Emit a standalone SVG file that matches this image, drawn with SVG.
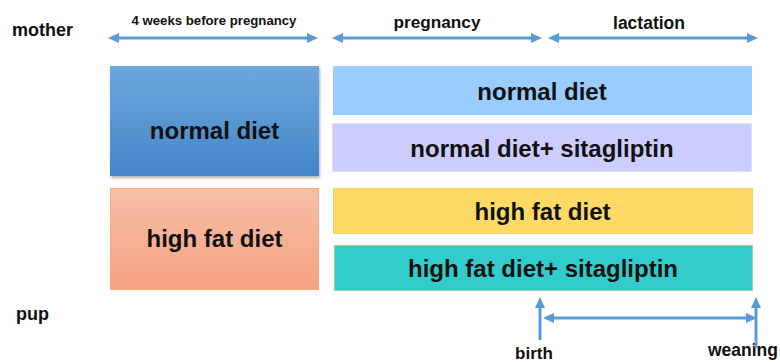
<svg xmlns="http://www.w3.org/2000/svg" width="780" height="362" viewBox="0 0 780 362">
<defs>
<style>
text{font-family:"Liberation Sans",Arial,sans-serif;font-weight:bold;fill:#111}
.big{font-size:24px;text-anchor:middle}
.lbl{font-size:17.5px}
.ar{stroke:#5B9BD5;stroke-width:3;fill:none;marker-end:url(#ah)}
.ar2{stroke:#5B9BD5;stroke-width:3;fill:none;marker-start:url(#ah);marker-end:url(#ah)}
</style>
<marker id="ah" viewBox="0 0 11 10" refX="1" refY="5" markerWidth="11" markerHeight="10" markerUnits="userSpaceOnUse" orient="auto-start-reverse">
<path d="M0,0 L11,5 L0,10 z" fill="#5B9BD5"/>
</marker>
<linearGradient id="gBlue" x1="0" y1="0" x2="0" y2="1">
<stop offset="0" stop-color="#6FA7DE"/>
<stop offset="1" stop-color="#4386C9"/>
</linearGradient>
<linearGradient id="gOrange" x1="0" y1="0" x2="0" y2="1">
<stop offset="0" stop-color="#F7BFA8"/>
<stop offset="1" stop-color="#F5A280"/>
</linearGradient>
<filter id="sh" x="-5%" y="-5%" width="115%" height="120%">
<feDropShadow dx="1" dy="2" stdDeviation="1.5" flood-color="#000" flood-opacity="0.3"/>
</filter>
</defs>

<g id="labels">
<text class="lbl" x="12" y="36" style="font-size:18px">mother</text>
<text class="lbl" x="16" y="320" style="font-size:18px">pup</text>
<text x="214" y="25" style="font-size:13.2px;text-anchor:middle">4 weeks before pregnancy</text>
<text class="lbl" x="437" y="28" style="text-anchor:middle;font-size:17.2px">pregnancy</text>
<text class="lbl" x="649" y="29" style="text-anchor:middle">lactation</text>
<text class="lbl" x="534" y="359" style="text-anchor:middle;font-size:17px">birth</text>
<text class="lbl" x="743" y="356" style="text-anchor:middle">weaning</text>
</g>

<g id="node-left-normal">
<rect x="110" y="66" width="209" height="110" fill="url(#gBlue)" filter="url(#sh)"/>
<text class="big" x="214.5" y="139">normal diet</text>
</g>
<g id="node-left-hfd">
<rect x="110.5" y="188.5" width="208" height="101" fill="url(#gOrange)" stroke="#F4A97F" stroke-width="1"/>
<text class="big" x="214.5" y="247">high fat diet</text>
</g>
<g id="node-normal">
<rect x="333" y="66" width="419" height="49" fill="#99CCFF"/>
<text class="big" x="542" y="100">normal diet</text>
</g>
<g id="node-normal-sita">
<rect x="332.5" y="123.5" width="419" height="48" fill="#CCCCFF" stroke="#DCDCFF" stroke-width="1"/>
<text class="big" x="542" y="157">normal diet+ sitagliptin</text>
</g>
<g id="node-hfd">
<rect x="333.5" y="188.5" width="419" height="45" fill="#FFD966" stroke="#F8D06A" stroke-width="1"/>
<text class="big" x="542.5" y="220">high fat diet</text>
</g>
<g id="node-hfd-sita">
<rect x="334.5" y="245.5" width="418" height="45" fill="#33CCCC" stroke="#A9D18E" stroke-width="1"/>
<text class="big" x="543" y="277">high fat diet+ sitagliptin</text>
</g>

<g id="connectors">
<line class="ar2" x1="118" y1="38" x2="308" y2="38"/>
<line class="ar2" x1="342" y1="38" x2="532" y2="38"/>
<line class="ar2" x1="558" y1="38" x2="748" y2="38"/>
<line class="ar" x1="540" y1="340" x2="540" y2="307"/>
<line class="ar" x1="756" y1="348" x2="756" y2="307"/>
<line class="ar2" x1="553" y1="318" x2="747" y2="318"/>
</g>
</svg>
